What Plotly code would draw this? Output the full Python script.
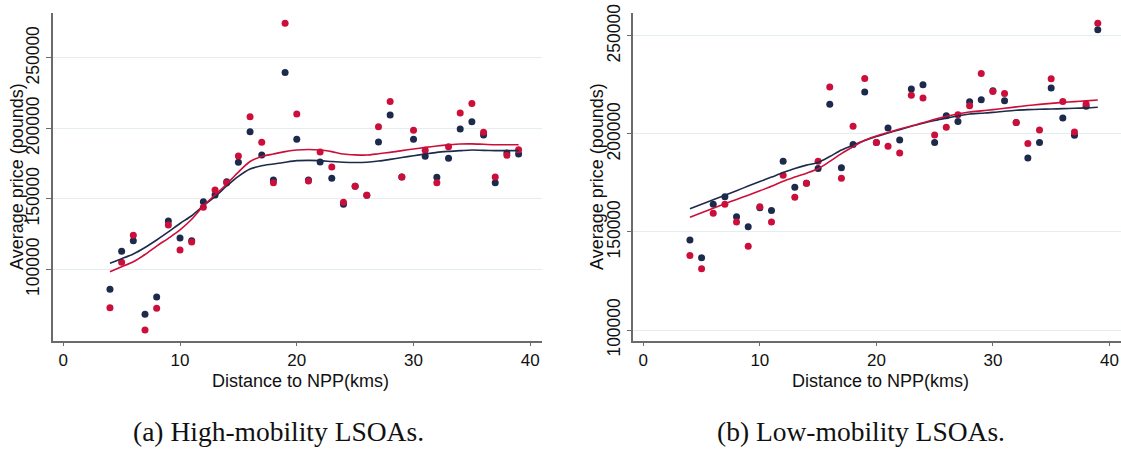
import plotly.graph_objects as go

W, H = 1121, 449

dist = [4, 5, 6, 7, 8, 9, 10, 11, 12, 13, 14, 15, 16, 17, 18, 19, 20, 21,
        22, 23, 24, 25, 26, 27, 28, 29, 30, 31, 32, 33, 34, 35, 36, 37, 38, 39]

# (a) High-mobility LSOAs
high_navy_pts = [85800, 112800, 120300, 68000, 80300, 134300, 122200, 120300, 148000,
                 152800, 162200, 176000, 197700, 181100, 163400, 239600, 192300, 163400,
                 176200, 164600, 146100, 158900, 152500, 190300, 209500, 165500, 192300,
                 180200, 165300, 178800, 199600, 204800, 195300, 161500, 182500, 181800]
high_red_pts = [72700, 105000, 124100, 56900, 72300, 131500, 113700, 119400, 144000,
                156300, 161500, 180400, 208300, 190100, 161500, 274600, 210200, 162700,
                183300, 172600, 147500, 158900, 152500, 201200, 219000, 165500, 198700,
                184500, 161500, 187000, 211000, 217600, 197200, 165500, 180900, 184900]
high_navy_fit = [104300, 107500, 110900, 115500, 120800, 126500, 132500, 138000, 145000,
                 151600, 159100, 166000, 171200, 173500, 174700, 176000, 177100, 177300,
                 177100, 176500, 176000, 175800, 176000, 176800, 178000, 179300, 180600,
                 181800, 183000, 183700, 184200, 184700, 184400, 184200, 184200, 184200]
high_red_fit = [98300, 101800, 105400, 110500, 116500, 122000, 127900, 135500, 145000,
                152800, 160500, 169000, 176500, 180000, 181800, 183500, 184700, 185000,
                184700, 183500, 181800, 181200, 181100, 182000, 183000, 184200, 185400,
                186500, 187500, 188300, 188900, 189000, 188700, 188400, 188400, 188400]

# (b) Low-mobility LSOAs
low_navy_pts = [145900, 136800, 164100, 168000, 157800, 152700, 162400, 161000, 186100,
                172800, 174900, 182400, 215100, 182800, 194600, 221400, 195700, 203100,
                196900, 222900, 225100, 195600, 209300, 206400, 216400, 217500, 222000,
                217000, 205800, 187800, 195600, 223500, 208100, 199300, 214100, 253100]
low_red_pts = [138000, 131200, 159500, 164100, 155100, 142700, 162900, 155100, 178900,
               167700, 174900, 186100, 223900, 177400, 203900, 228300, 195700, 193700,
               190300, 219700, 218300, 199500, 203400, 209800, 214400, 230900, 221700,
               220700, 205800, 195200, 202000, 228100, 216600, 201000, 215300, 256500]
low_navy_fit = [161900, 164200, 166500, 168800, 171100, 173400, 175700, 178000, 180300,
                182400, 184100, 185500, 188500, 191800, 194300, 196700, 198700, 200500,
                202200, 203900, 205500, 206900, 208100, 209200, 210200, 210600, 211000,
                211600, 212100, 212400, 212600, 212700, 212900, 213100, 213300, 213600]
low_red_fit = [157500, 159800, 162100, 164400, 166600, 168800, 171000, 173300, 175900,
               178000, 180000, 182300, 186000, 190000, 193500, 196800, 199000, 200800,
               202500, 204100, 205700, 207500, 209000, 210200, 211200, 211800, 212400,
               213100, 213800, 214500, 215100, 215600, 216100, 216500, 216900, 217300]

x_ticks = [0, 10, 20, 30, 40]
y_ticks = [100000, 150000, 200000, 250000]
x_title = "Distance to NPP(kms)"
y_title = "Average price (pounds)"
captions = ["(a) High-mobility LSOAs.", "(b) Low-mobility LSOAs."]

NAVY = "#1c2a4c"
RED = "#cc0f3a"
AXC = "#6b6b6b"
GRID = "#e4eef0"
SANS = "Liberation Sans, Arial, sans-serif"
SERIF = "Liberation Serif, Times New Roman, serif"

fig = go.Figure()

panels = [
    ("x", "y", high_navy_pts, high_red_pts, high_navy_fit, high_red_fit),
    ("x2", "y2", low_navy_pts, low_red_pts, low_navy_fit, low_red_fit),
]
for xa, ya, npts, rpts, nfit, rfit in panels:
    fig.add_trace(go.Scatter(x=dist, y=npts, mode="markers", xaxis=xa, yaxis=ya,
                             marker=dict(color=NAVY, size=7), showlegend=False))
    fig.add_trace(go.Scatter(x=dist, y=rpts, mode="markers", xaxis=xa, yaxis=ya,
                             marker=dict(color=RED, size=7), showlegend=False))
    fig.add_trace(go.Scatter(x=dist, y=nfit, mode="lines", xaxis=xa, yaxis=ya,
                             line=dict(color=NAVY, width=1.6, shape="spline", smoothing=0.8),
                             showlegend=False))
    fig.add_trace(go.Scatter(x=dist, y=rfit, mode="lines", xaxis=xa, yaxis=ya,
                             line=dict(color=RED, width=1.6, shape="spline", smoothing=0.8),
                             showlegend=False))


def px_x(p):
    return p / W


def px_y(p):
    return 1 - p / H


yd = [px_y(341), px_y(13)]
common_x = dict(tickvals=x_ticks, ticks="outside", ticklen=3, tickcolor=AXC, tickwidth=1.3,
                showline=True, linecolor=AXC, linewidth=1.6, showgrid=False, zeroline=False,
                automargin=False,
                tickfont=dict(family=SANS, size=17, color="#111"))
common_y = dict(tickvals=y_ticks, ticks="outside", ticklen=5, tickcolor=AXC, tickwidth=1.3,
                showline=True, linecolor=AXC, linewidth=1.6, showgrid=True, gridcolor=GRID,
                gridwidth=1.2, zeroline=False, tickangle=-90, tickformat="d",
                automargin=False,
                tickfont=dict(family=SANS, size=17.5, color="#111"))

fig.update_layout(
    width=W, height=H,
    margin=dict(l=0, r=0, t=0, b=0, pad=0, autoexpand=False),
    paper_bgcolor="white", plot_bgcolor="white",
    xaxis=dict(domain=[px_x(53), px_x(541.7)], range=[-0.88, 40.98], anchor="y", **common_x),
    yaxis=dict(domain=yd, range=[49100, 281900], anchor="x", **common_y),
    xaxis2=dict(domain=[px_x(633.3), px_x(1120.5)], range=[-0.86, 40.95], anchor="y2", **common_x),
    yaxis2=dict(domain=yd, range=[94400, 261700], anchor="x2", **common_y),
)

ann = []
for cx, ycx in [(300, 17), (880, 597)]:
    ann.append(dict(text=x_title, x=px_x(cx), y=px_y(380.5), xref="paper", yref="paper",
                    xanchor="center", yanchor="middle", showarrow=False,
                    font=dict(family=SANS, size=18, color="#111")))
    ann.append(dict(text=y_title, x=px_x(ycx), y=px_y(177), xref="paper", yref="paper",
                    xanchor="center", yanchor="middle", showarrow=False, textangle=-90,
                    font=dict(family=SANS, size=18, color="#111")))
for cap, cx in zip(captions, [278, 861]):
    ann.append(dict(text=cap, x=px_x(cx), y=px_y(431), xref="paper", yref="paper",
                    xanchor="center", yanchor="middle", showarrow=False,
                    font=dict(family=SERIF, size=27.5, color="#111")))
fig.update_layout(annotations=ann)

fig.write_html("out.html")
